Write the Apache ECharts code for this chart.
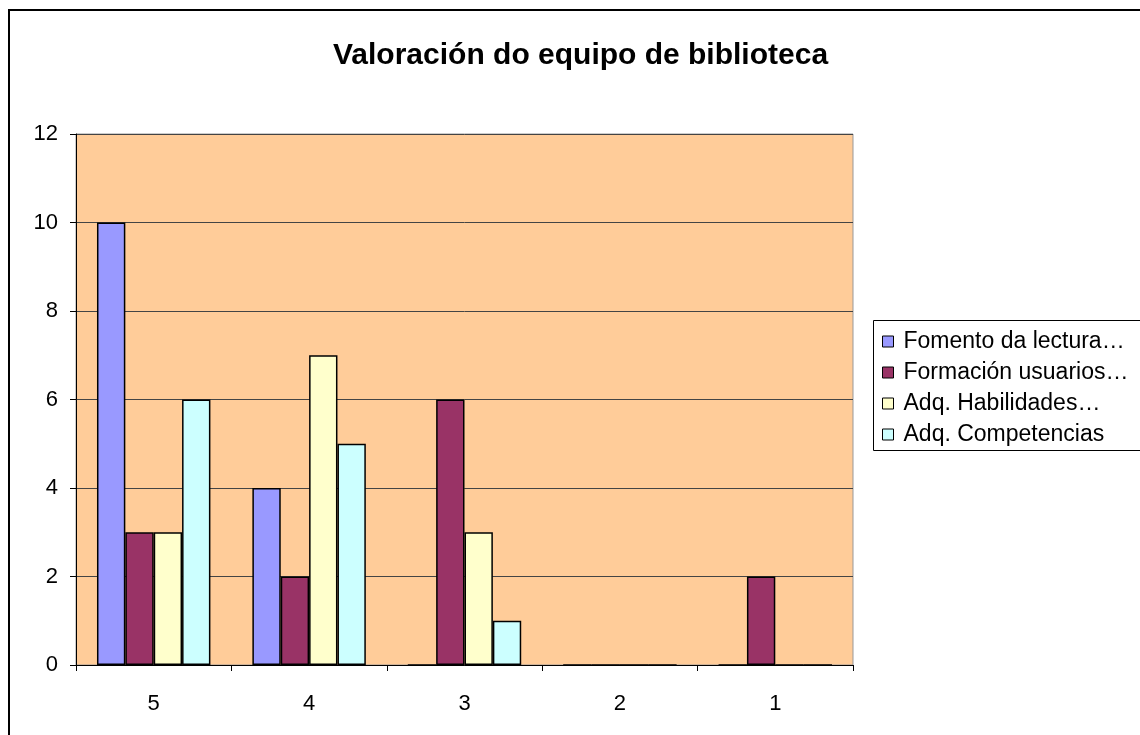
<!DOCTYPE html>
<html>
<head>
<meta charset="utf-8">
<script src="https://cdn.jsdelivr.net/npm/echarts@6/dist/echarts.min.js"></script>
<style>
  html, body { margin: 0; padding: 0; background: #fff; }
  #chart { width: 1140px; height: 735px; }
</style>
</head>
<body>
<div id="chart"></div>
<script>
const categories = ['5', '4', '3', '2', '1']
const fomento = [10, 4, 0, 0, 0]
const formacion = [3, 2, 6, 0, 2]
const habilidades = [3, 7, 3, 0, 0]
const competencias = [6, 5, 1, 0, 0]
const seriesNames = ['Fomento da lectura…', 'Formación usuarios…', 'Adq. Habilidades…', 'Adq. Competencias']
const colors = ['#9999FF', '#993366', '#FFFFCC', '#CCFFFF']

const chart = echarts.init(document.getElementById('chart'))
const font = 'Liberation Sans, Arial, sans-serif'

const bar = (name, data, color) => ({
  name: name,
  type: 'bar',
  data: data,
  barGap: 0,
  barCategoryGap: '27%',
  itemStyle: { color: color, borderColor: '#000', borderWidth: 1.5 }
})

chart.setOption({
  animation: false,
  textStyle: { fontFamily: font },
  color: colors,
  title: {
    text: 'Valoración do equipo de biblioteca',
    left: 328,
    top: 36,
    textStyle: { fontFamily: font, fontSize: 30, fontWeight: 'bold', color: '#000' }
  },
  graphic: [
    // outer chart frame, cut off at right and bottom
    {
      type: 'rect', z: -1,
      shape: { x: 9, y: 10, width: 1300, height: 900 },
      style: { fill: 'none', stroke: '#000', lineWidth: 2 }
    },
    // legend frame
    {
      type: 'rect', z: -1,
      shape: { x: 873.5, y: 320.5, width: 400, height: 130 },
      style: { fill: '#fff', stroke: '#000', lineWidth: 1 }
    }
  ],
  legend: {
    orient: 'vertical',
    left: 877,
    top: 325,
    itemGap: 8,
    itemWidth: 11,
    itemHeight: 11,
    icon: 'rect',
    itemStyle: { borderColor: '#000', borderWidth: 1 },
    textStyle: { fontFamily: font, fontSize: 23, color: '#000', padding: [0, 0, 0, 5] },
    data: seriesNames
  },
  grid: {
    left: 76, right: 287, top: 134, bottom: 70,
    show: true,
    backgroundColor: '#FFCC99',
    borderColor: '#999',
    borderWidth: 1
  },
  xAxis: {
    type: 'category',
    data: categories,
    axisLine: { lineStyle: { color: '#000', width: 1 } },
    axisTick: { show: true, length: 6, lineStyle: { color: '#000' } },
    axisLabel: { fontFamily: font, fontSize: 22, color: '#000', margin: 28 }
  },
  yAxis: {
    type: 'value',
    min: 0,
    max: 12,
    interval: 2,
    axisLine: { show: true, lineStyle: { color: '#000', width: 1 } },
    axisTick: { show: true, length: 6, lineStyle: { color: '#000' } },
    axisLabel: { fontFamily: font, fontSize: 22, color: '#000', margin: 18 },
    splitLine: { lineStyle: { color: '#444', width: 1 } }
  },
  series: [
    bar(seriesNames[0], fomento, colors[0]),
    bar(seriesNames[1], formacion, colors[1]),
    bar(seriesNames[2], habilidades, colors[2]),
    bar(seriesNames[3], competencias, colors[3])
  ]
})
</script>
</body>
</html>
